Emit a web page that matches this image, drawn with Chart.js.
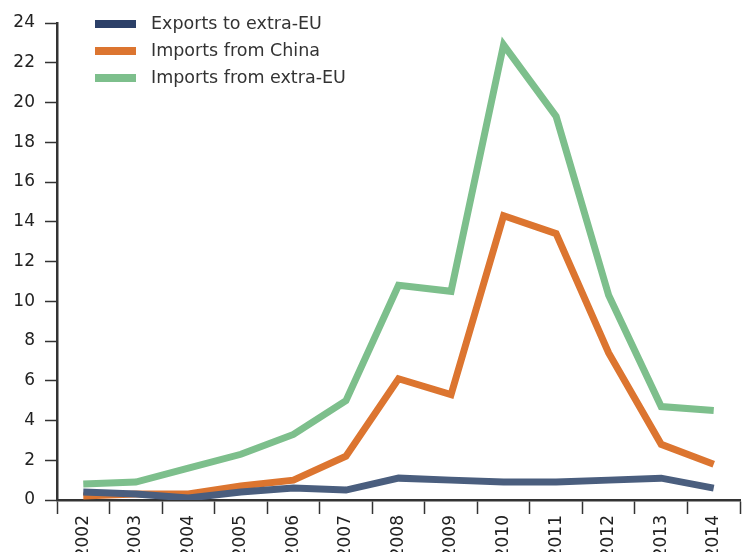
<!DOCTYPE html>
<html lang="en">
<head>
    <meta charset="UTF-8">
    <title>Trade chart</title>
    <script src="https://cdn.jsdelivr.net/npm/chart.js"></script>
    <style>
        html, body { margin: 0; padding: 0; background: #fff; overflow: hidden; }
        .chart-container { position: relative; width: 744px; height: 552px; }
    </style>
</head>
<body>
    <div class="chart-container">
        <canvas id="tradeChart" width="744" height="552"></canvas>
    </div>
    <script>
        const years = ['2002', '2003', '2004', '2005', '2006', '2007', '2008', '2009', '2010', '2011', '2012', '2013', '2014'];
        const exportsExtraEU = [0.4, 0.3, 0.1, 0.4, 0.6, 0.5, 1.1, 1.0, 0.9, 0.9, 1.0, 1.1, 0.6];
        const importsChina = [0.2, 0.3, 0.3, 0.7, 1.0, 2.2, 6.1, 5.3, 14.3, 13.4, 7.4, 2.8, 1.8];
        const importsExtraEU = [0.8, 0.9, 1.6, 2.3, 3.3, 5.0, 10.8, 10.5, 22.9, 19.3, 10.3, 4.7, 4.5];

        const fontFamily = "'DejaVu Sans', 'Open Sans', sans-serif";
        const axisColor = '#333333';

        // legend drawn by hand: vertical list in the top-left of the plot
        const sideLegend = {
            id: 'sideLegend',
            afterDraw(chart) {
                const ctx = chart.ctx;
                ctx.save();
                ctx.font = '17.5px ' + fontFamily;
                ctx.textBaseline = 'middle';
                chart.data.datasets.forEach(function(ds, i) {
                    const y = 24 + i * 27;
                    ctx.fillStyle = ds.legendColor;
                    ctx.fillRect(95, y - 4, 41, 8);
                    ctx.fillStyle = '#333333';
                    ctx.fillText(ds.label, 151, y);
                });
                ctx.restore();
            }
        };

        new Chart(document.getElementById('tradeChart'), {
            type: 'line',
            data: {
                labels: years,
                datasets: [
                    {
                        label: 'Exports to extra-EU',
                        data: exportsExtraEU,
                        borderColor: '#4a5e7e',
                        legendColor: '#2c4068',
                        borderWidth: 7,
                        pointRadius: 0,
                        tension: 0
                    },
                    {
                        label: 'Imports from China',
                        data: importsChina,
                        borderColor: '#dc7530',
                        legendColor: '#dc7530',
                        borderWidth: 7,
                        pointRadius: 0,
                        tension: 0
                    },
                    {
                        label: 'Imports from extra-EU',
                        data: importsExtraEU,
                        borderColor: '#7dbf8c',
                        legendColor: '#7dbf8c',
                        borderWidth: 7,
                        pointRadius: 0,
                        tension: 0
                    }
                ]
            },
            options: {
                responsive: false,
                animation: false,
                layout: { padding: { top: 23, right: 4 } },
                plugins: {
                    legend: { display: false },
                    tooltip: { enabled: false }
                },
                scales: {
                    x: {
                        offset: true,
                        border: { color: axisColor, width: 2.5 },
                        grid: {
                            offset: true,
                            drawOnChartArea: false,
                            tickLength: 14,
                            tickColor: axisColor,
                            tickWidth: 1.5
                        },
                        ticks: {
                            color: '#222222',
                            font: { family: fontFamily, size: 17 },
                            maxRotation: 90,
                            minRotation: 90,
                            padding: 1,
                            autoSkip: false
                        },
                        afterFit: function(scale) { scale.height = 52; }
                    },
                    y: {
                        min: 0,
                        max: 24,
                        border: { color: axisColor, width: 2.5 },
                        grid: {
                            drawOnChartArea: false,
                            tickLength: 12,
                            tickColor: axisColor,
                            tickWidth: 1.5
                        },
                        ticks: {
                            stepSize: 2,
                            color: '#222222',
                            font: { family: fontFamily, size: 17 },
                            padding: 10
                        },
                        afterFit: function(scale) { scale.width = 57; }
                    }
                }
            },
            plugins: [sideLegend]
        });
    </script>
</body>
</html>
